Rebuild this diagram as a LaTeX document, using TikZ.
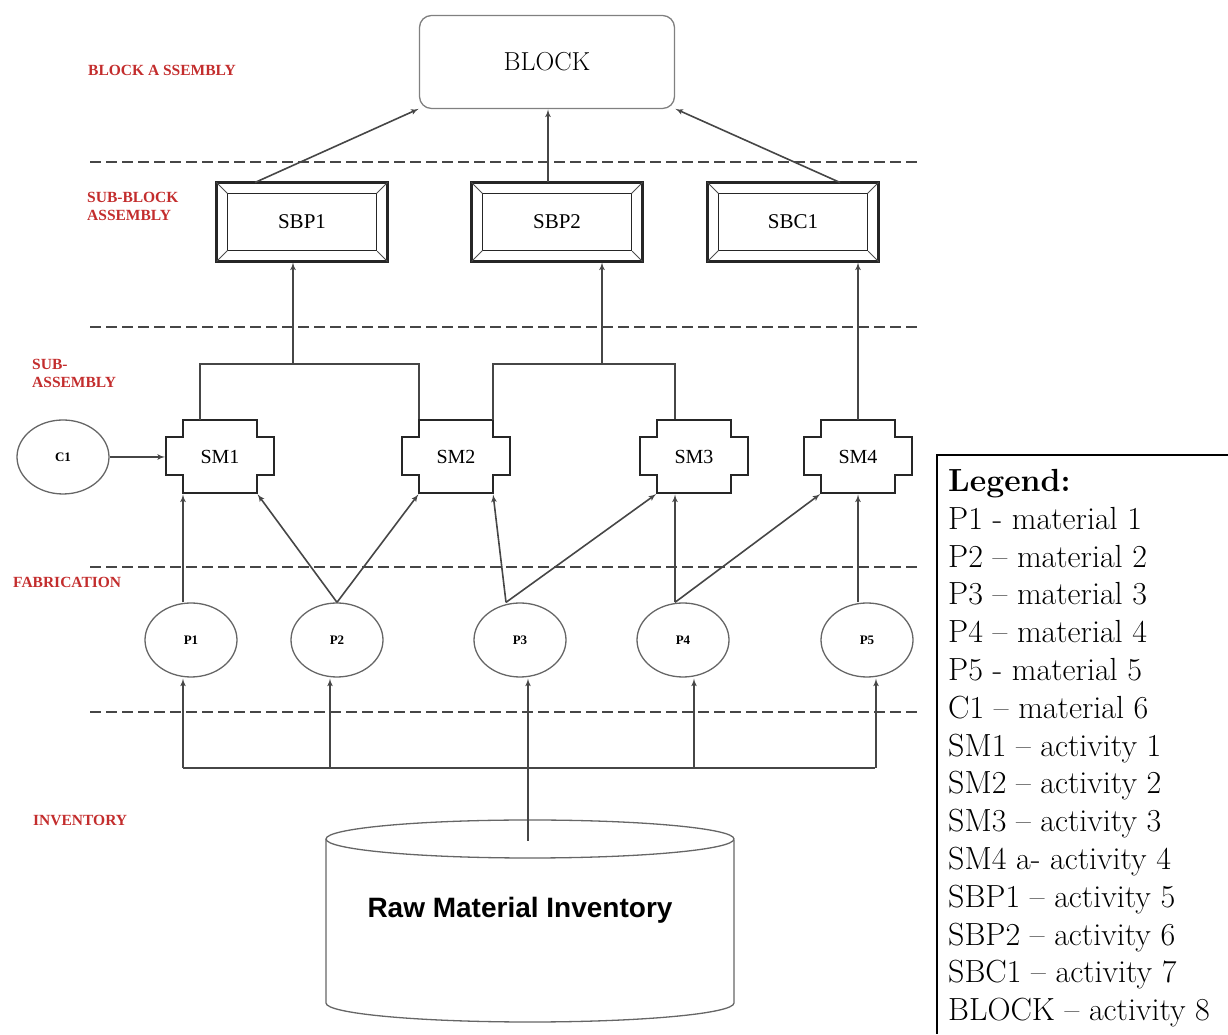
\documentclass[tikz,border=0pt]{standalone}
\usepackage{fontspec}
\newfontfamily\lserif{Liberation Serif}
\newfontfamily\lsans{Liberation Sans}
\usetikzlibrary{arrows,shapes.geometric}

\definecolor{stagered}{RGB}{195,45,45}
\definecolor{linegray}{RGB}{70,70,70}

\tikzset{
  stagelbl/.style={font=\lserif\bfseries\fontsize{15.5}{18}\selectfont, text=stagered, align=left, anchor=west, inner sep=0pt},
  divider/.style={dash pattern=on 11pt off 5pt, line width=2.4pt, color=linegray},
  conn/.style={line width=1.6pt, color=linegray},
  matnode/.style={ellipse, draw=gray!80!black, line width=1.3pt, minimum width=92pt, minimum height=74pt, inner sep=0pt, font=\lserif\bfseries\fontsize{13}{15}\selectfont},
  smbox/.style={minimum width=108pt, minimum height=73pt, inner sep=0pt, outer sep=0pt, font=\lserif\fontsize{20}{22}\selectfont},
  smline/.style={line width=2pt, color=black!85},
  sbpbox/.style={draw=black!85, line width=2.4pt, minimum width=171pt, minimum height=79pt, inner sep=0pt, outer sep=0pt, font=\lserif\fontsize{21}{23}\selectfont},
  sbpin/.style={draw=black!85, line width=1.8pt},
  bevel/.style={draw=black!70, line width=1pt},
  blockbox/.style={draw=gray, line width=1.3pt, rounded corners=12pt, minimum width=255pt, minimum height=93pt, outer sep=0pt, font=\fontsize{26}{28}\selectfont},
  cyl/.style={draw=gray!80!black, line width=1.3pt},
  invtext/.style={font=\lsans\bfseries\fontsize{28}{30}\selectfont},
  legendtext/.style={font=\fontsize{32}{37.8}\selectfont, align=left, inner sep=0pt, anchor=north west}
}

\begin{document}
\begin{tikzpicture}[x=1pt,y=1pt,>=latex',shorten >=1pt]
\useasboundingbox (0,0) rectangle (1228,1035);

% stage labels
\node[stagelbl] (lblock)    at (88,965)  {BLOCK A SSEMBLY};
\node[stagelbl] (lsubblock) at (87,829)  {SUB-BLOCK\\ASSEMBLY};
\node[stagelbl] (lsub)      at (32,662)  {SUB-\\ASSEMBLY};
\node[stagelbl] (lfab)      at (13,453)  {FABRICATION};
\node[stagelbl] (linv)      at (33,215)  {INVENTORY};

\foreach \y in {873,708,468,323}
  \draw[divider] (90,\y) -- (918,\y);

% block and sub-blocks
\node[blockbox] (BLOCK) at (547,973) {BLOCK\hspace{20pt}};

\node[sbpbox] (SBP1) at (302,813) {SBP1};
\node[sbpbox] (SBP2) at (557,813) {SBP2};
\node[sbpbox] (SBC1) at (793,813) {SBC1};
\foreach \n in {SBP1,SBP2,SBC1}{
  \draw[sbpin] ([shift={(11,-11)}]\n.north west) rectangle ([shift={(-11,11)}]\n.south east);
  \draw[bevel] (\n.north west) -- ++(11,-11) (\n.north east) -- ++(-11,-11)
               (\n.south west) -- ++(11,11) (\n.south east) -- ++(-11,11);
}

% sub-assemblies
\node[smbox] (SM1) at (220,578) {SM1};
\node[smbox] (SM2) at (456,578) {SM2};
\node[smbox] (SM3) at (694,578) {SM3};
\node[smbox] (SM4) at (858,578) {SM4};
\foreach \n in {SM1,SM2,SM3,SM4}
  \draw[smline] ([xshift=17]\n.north west) -- ([xshift=-17]\n.north east) -- ++(0,-17) -- ++(17,0)
     -- ++(0,-38) -- ++(-17,0) -- ([xshift=-17]\n.south east) -- ([xshift=17]\n.south west)
     -- ++(0,18) -- ++(-17,0) -- ++(0,38) -- ++(17,0) -- cycle;

% materials
\node[matnode] (C1) at (63,578)  {C1};
\node[matnode] (P1) at (191,395) {P1};
\node[matnode] (P2) at (337,395) {P2};
\node[matnode] (P3) at (520,395) {P3};
\node[matnode] (P4) at (683,395) {P4};
\node[matnode] (P5) at (867,395) {P5};

% inventory
\node[invtext] (INV) at (520,125) {Raw Material Inventory};
\draw[cyl] (530,196) ellipse [x radius=204, y radius=19];
\draw[cyl] (326,196) -- (326,32) arc[start angle=180, end angle=360, x radius=204, y radius=19] -- (734,196);

\coordinate (busL)   at (183,267);
\coordinate (busR)   at (876,267);
\coordinate (cyltop) at (528,194);
\coordinate (join1)  at (293,671);
\coordinate (join2)  at (602,671);

\draw[conn] (busL) -- (busR);
\draw[conn] ([xshift=-20]SM1.north) |- (join1) -| ([xshift=17]SM2.north west);
\draw[conn] ([xshift=-17]SM2.north east) |- (join2) -| ([xshift=-19]SM3.north);

\path[conn,->] (busL) edge (busL |- P1.south)
               ([xshift=-7]P2.south |- busL) edge ([xshift=-7]P2.south)
               (cyltop) edge (cyltop |- P3.south)
               ([xshift=11]P4.south |- busL) edge ([xshift=11]P4.south)
               (busR) edge (busR |- P5.south)

               (C1) edge (SM1.west)
               ([xshift=17]SM1.south west |- P1.north) edge ([xshift=17]SM1.south west)
               (P2.north) edge ([xshift=-17]SM1.south east)
               (P2.north) edge ([xshift=17]SM2.south west)
               ([xshift=-14]P3.north) edge ([xshift=-17]SM2.south east)
               ([xshift=-14]P3.north) edge ([xshift=17]SM3.south west)
               ([xshift=-19]SM3.south |- P4.north) edge ([xshift=-19]SM3.south)
               ([xshift=-19]SM3.south |- P4.north) edge ([xshift=17]SM4.south west)
               (SM4.south |- P5.north) edge (SM4.south)

               (join1) edge (join1 |- SBP1.south)
               (join2) edge (join2 |- SBP2.south)
               (SM4.north) edge (SM4.north |- SBC1.south)

               ([xshift=-47]SBP1.north) edge (BLOCK.south west)
               ([xshift=-9]SBP2.north) edge ([xshift=-9]SBP2.north |- BLOCK.south)
               ([xshift=47]SBC1.north) edge (BLOCK.south east);

% legend
\draw[line width=2pt] (1228,580) -- (937,580) -- (937,0);
\node[legendtext] (LEG) at (948,566) {\textbf{Legend:}\\P1 - material 1\\P2 – material 2\\P3 – material 3\\P4 – material 4\\P5 - material 5\\C1 – material 6\\SM1 – activity 1\\SM2 – activity 2\\SM3 – activity 3\\SM4 a- activity 4\\SBP1 – activity 5\\SBP2 – activity 6\\SBC1 – activity 7\\BLOCK – activity 8};
\end{tikzpicture}
\end{document}
